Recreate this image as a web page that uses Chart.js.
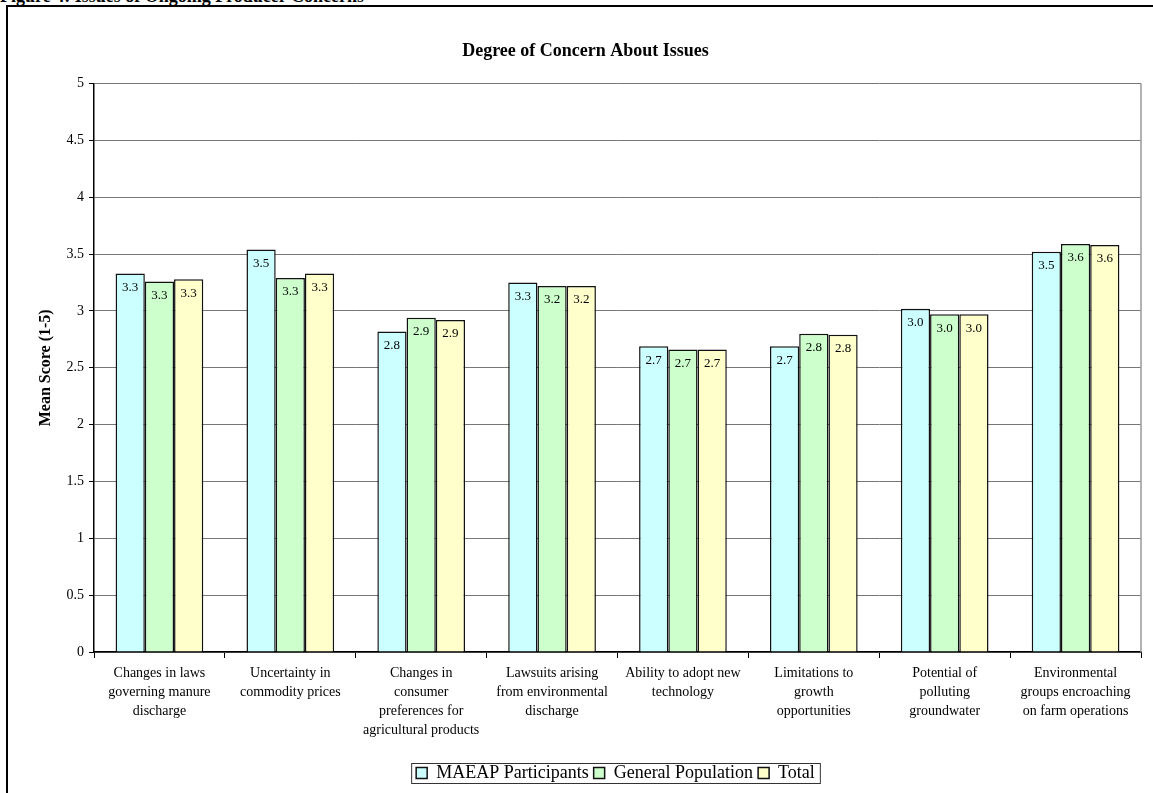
<!DOCTYPE html>
<html>
<head>
<meta charset="utf-8">
<script src="https://cdn.jsdelivr.net/npm/chart.js@4.4.0/dist/chart.umd.min.js"></script>
<style>
  body { margin: 0; background: #fff; overflow: hidden; }
  #caption { position: absolute; left: 0; top: -14px; font: bold 18px "Liberation Serif", serif; }
  #frame { position: absolute; left: 6px; top: 5px; width: 1200px; height: 900px; border: 2px solid #000; pointer-events: none; }
  #chart { position: absolute; left: 0; top: 0; }
</style>
</head>
<body>
<div id="caption">Figure 4: Issues of Ongoing Producer Concerns</div>
<canvas id="chart" width="1153" height="793"></canvas>
<div id="frame"></div>
<script>
// categories (multi-line tick labels)
const issues = [
  ['Changes in laws', 'governing manure', 'discharge'],
  ['Uncertainty in', 'commodity prices'],
  ['Changes in', 'consumer', 'preferences for', 'agricultural products'],
  ['Lawsuits arising', 'from environmental', 'discharge'],
  ['Ability to adopt new', 'technology'],
  ['Limitations to', 'growth', 'opportunities'],
  ['Potential of', 'polluting', 'groundwater'],
  ['Environmental', 'groups encroaching', 'on farm operations']
];

// mean scores
const maeap = [3.33, 3.54, 2.82, 3.25, 2.69, 2.69, 3.02, 3.52];
const generalPop = [3.26, 3.29, 2.94, 3.22, 2.66, 2.80, 2.97, 3.59];
const total = [3.28, 3.33, 2.92, 3.22, 2.66, 2.79, 2.97, 3.58];

const seriesNames = ['MAEAP Participants', 'General Population', 'Total'];
const seriesColors = ['#CCFFFF', '#CCFFCC', '#FFFFCC'];

const serif = '"Liberation Serif", "Times New Roman", serif';

//write the value inside the top of each bar
const valueLabels = {
  id: 'valueLabels',
  afterDatasetsDraw(chart) {
    const ctx = chart.ctx;
    ctx.save();
    ctx.font = '13px ' + serif;
    ctx.fillStyle = '#000';
    ctx.textAlign = 'center';
    ctx.textBaseline = 'middle';
    chart.data.datasets.forEach((ds, i) => {
      chart.getDatasetMeta(i).data.forEach((bar, j) => {
        ctx.fillText(ds.data[j].toFixed(1), bar.x, bar.y + 14);
      });
    });
    ctx.restore();
  }
};

//gray right edge of the plot + box round the legend
const frames = {
  id: 'frames',
  afterLayout(chart) {
    //legend sits under the plot area, not the whole canvas
    chart.legend.left += 30;
    chart.legend.right += 30;
  },
  beforeDatasetsDraw(chart) {
    const a = chart.chartArea;
    const ctx = chart.ctx;
    ctx.save();
    ctx.strokeStyle = '#999';
    ctx.lineWidth = 1.5;
    ctx.beginPath();
    ctx.moveTo(a.right, a.top);
    ctx.lineTo(a.right, a.bottom);
    ctx.stroke();
    ctx.restore();
  },
  afterDraw(chart) {
    const boxes = chart.legend.legendHitBoxes;
    if (!boxes || !boxes.length) return;
    const left = boxes[0].left - 5;
    const last = boxes[boxes.length - 1];
    const right = last.left + last.width + 5;
    const top = boxes[0].top - 1;
    const bottom = boxes[0].top + boxes[0].height + 1;
    const ctx = chart.ctx;
    ctx.save();
    ctx.strokeStyle = '#333';
    ctx.lineWidth = 1;
    ctx.strokeRect(left + 0.5, top + 0.5, right - left, bottom - top);
    ctx.restore();
  }
};

const sets = [maeap, generalPop, total].map((vals, i) => ({
  label: seriesNames[i],
  data: vals,
  backgroundColor: seriesColors[i],
  borderColor: '#111',
  borderWidth: 1.5,
  categoryPercentage: 0.67,
  barPercentage: 1.0
}));

new Chart(document.getElementById('chart'), {
  type: 'bar',
  data: { labels: issues, datasets: sets },
  options: {
    responsive: false,
    animation: false,
    layout: { padding: { left: 30, right: 12, top: 0, bottom: 1 } },
    plugins: {
      title: {
        display: true,
        text: 'Degree of Concern About Issues',
        color: '#000',
        font: { family: serif, size: 18, weight: 'bold' },
        padding: { top: 41, bottom: 21 }
      },
      legend: {
        position: 'bottom',
        labels: {
          color: '#000',
          font: { family: serif, size: 18 },
          boxWidth: 11,
          boxHeight: 11,
          padding: 5
        }
      },
      tooltip: { enabled: false }
    },
    scales: {
      x: {
        grid: { drawOnChartArea: false, drawTicks: true, tickLength: 6, color: '#000' },
        border: { color: '#000', width: 1.5 },
        ticks: {
          color: '#000',
          font: { family: serif, size: 14, lineHeight: 1.35 },
          maxRotation: 0,
          autoSkip: false,
          padding: 6
        },
        afterFit(scale) { scale.height = 107; }
      },
      y: {
        min: 0,
        max: 5,
        ticks: {
          stepSize: 0.5,
          color: '#000',
          font: { family: serif, size: 14 },
          padding: 5,
          callback: (v) => String(+v.toFixed(1))
        },
        grid: { color: '#777', lineWidth: 1, tickLength: 5, tickColor: '#000' },
        border: { color: '#000', width: 1.5 },
        title: {
          display: true,
          text: 'Mean Score (1-5)',
          color: '#000',
          font: { family: serif, size: 16, weight: 'bold' },
          padding: { top: 6, bottom: 0 }
        },
        afterFit(scale) { scale.width = 64; }
      }
    }
  },
  plugins: [valueLabels, frames]
});
</script>
</body>
</html>
